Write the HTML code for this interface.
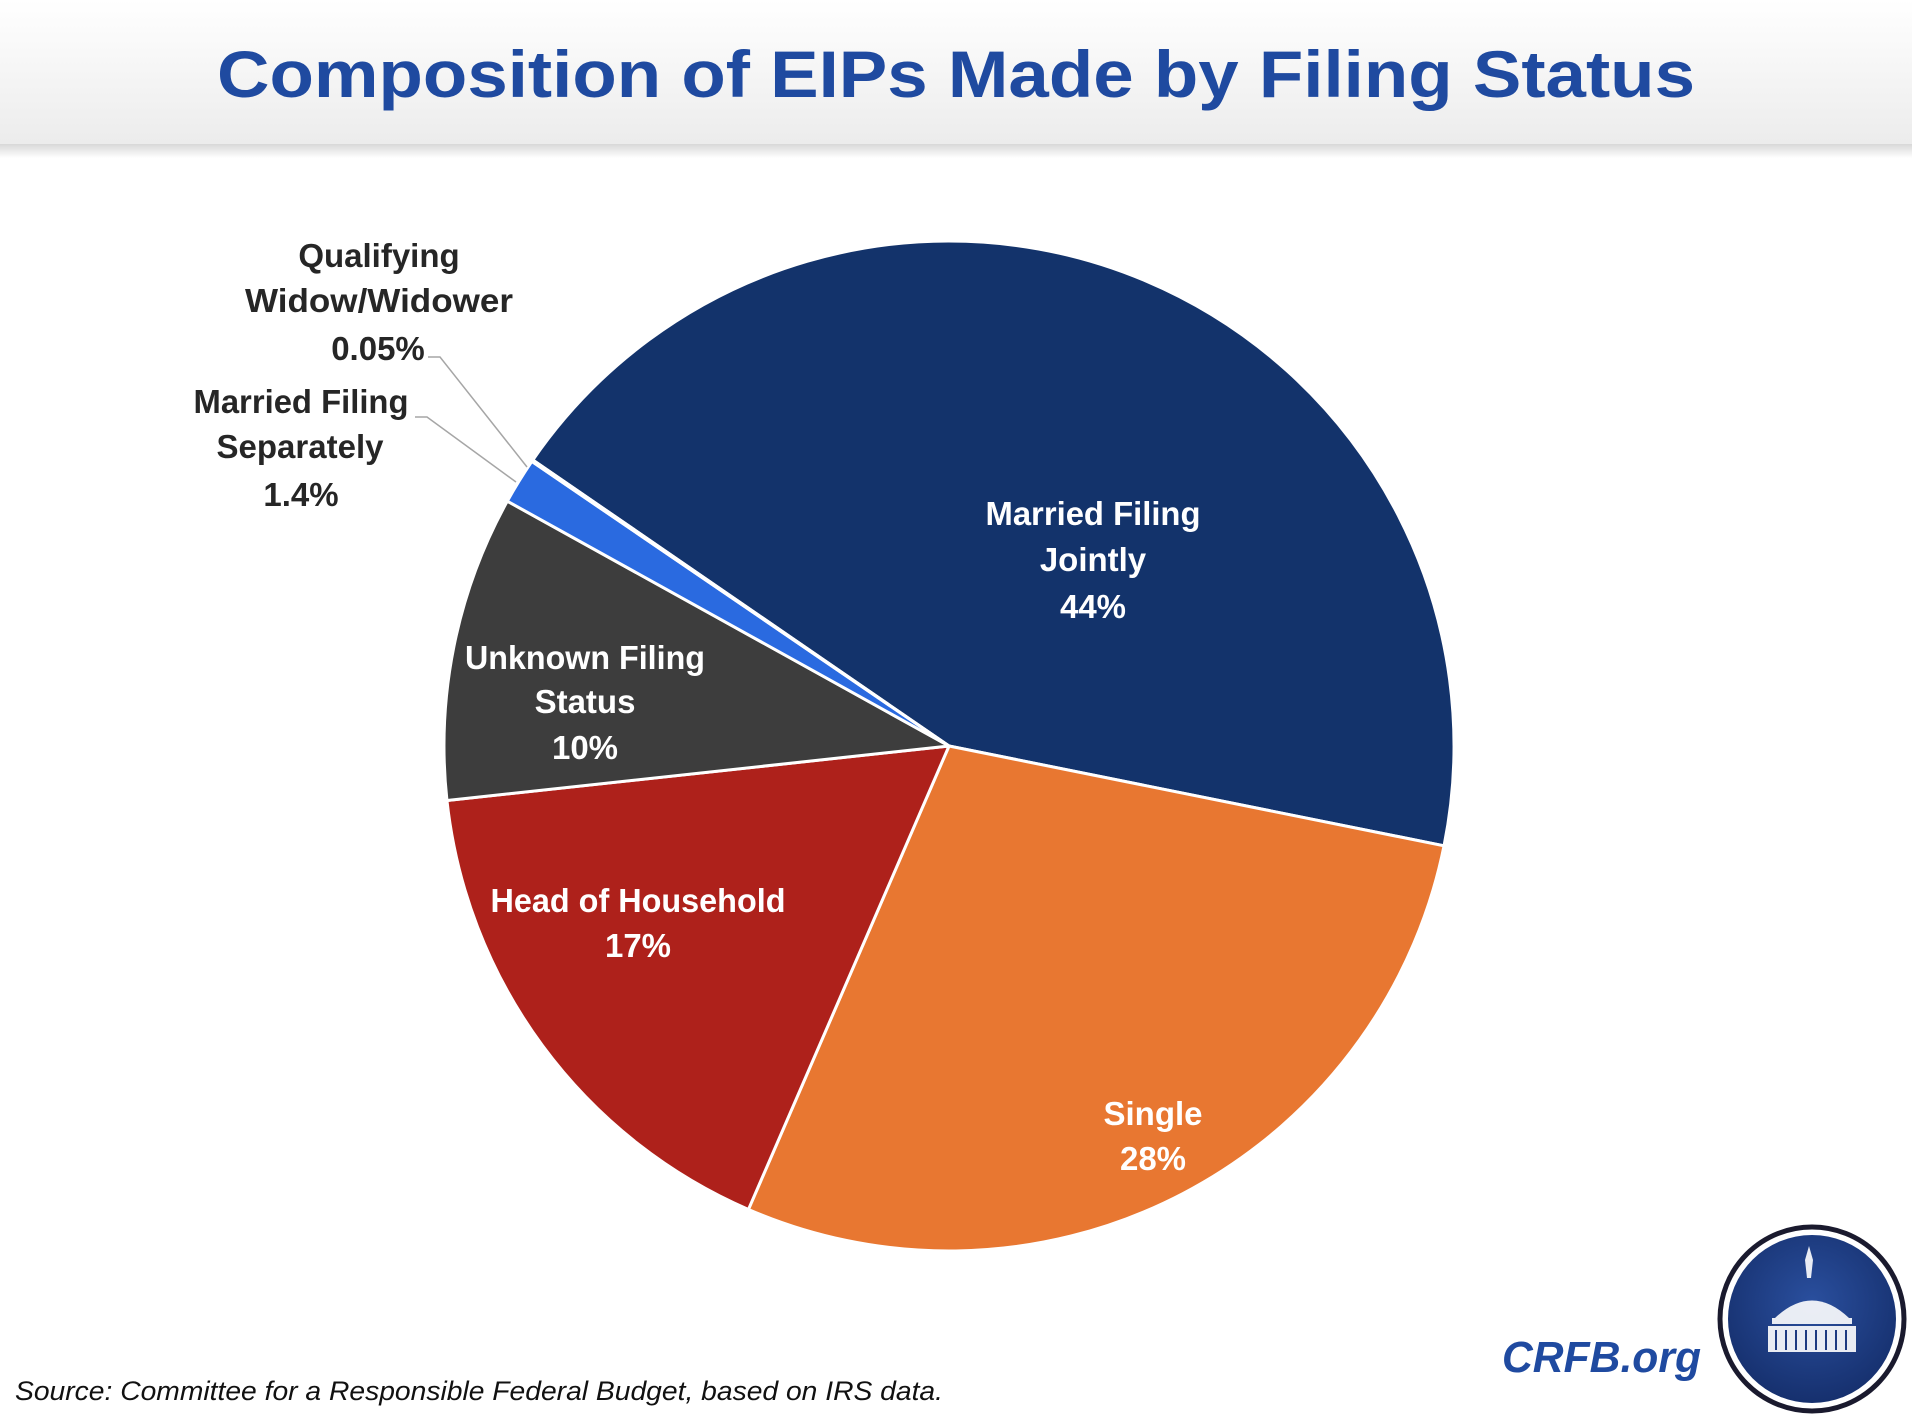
<!DOCTYPE html>
<html><head><meta charset="utf-8"><style>
html,body{margin:0;padding:0;background:#fff;}
svg{display:block;}
text{font-family:"Liberation Sans",sans-serif;font-weight:bold;}
</style></head><body>
<svg width="1912" height="1420" viewBox="0 0 1912 1420" xmlns="http://www.w3.org/2000/svg">
<defs>
<linearGradient id="hdr" x1="0" y1="0" x2="0" y2="1">
<stop offset="0" stop-color="#ffffff"/><stop offset="1" stop-color="#ececec"/>
</linearGradient>
<linearGradient id="shd" x1="0" y1="0" x2="0" y2="1">
<stop offset="0" stop-color="#d8d8d8"/><stop offset="1" stop-color="#ffffff"/>
</linearGradient>
<radialGradient id="lg" cx="0.5" cy="0.4" r="0.6">
<stop offset="0" stop-color="#2a4f9e"/><stop offset="1" stop-color="#16306e"/>
</radialGradient>
</defs>
<rect x="0" y="0" width="1912" height="144" fill="url(#hdr)"/>
<rect x="0" y="144" width="1912" height="14" fill="url(#shd)"/>
<text x="956" y="97" text-anchor="middle" font-size="66" fill="#1f4aa0" textLength="1478" lengthAdjust="spacingAndGlyphs">Composition of EIPs Made by Filing Status</text>

<g stroke="#fff" stroke-width="3" stroke-linejoin="round" id="pie"></g>

<g fill="#fff" font-size="33" text-anchor="middle">
<text x="1093" y="525" textLength="215" lengthAdjust="spacingAndGlyphs">Married Filing</text>
<text x="1093" y="571">Jointly</text>
<text x="1093" y="618">44%</text>
<text x="1153" y="1125">Single</text>
<text x="1153" y="1170">28%</text>
<text x="638" y="912" textLength="295" lengthAdjust="spacingAndGlyphs">Head of Household</text>
<text x="638" y="957">17%</text>
<text x="585" y="669" textLength="240" lengthAdjust="spacingAndGlyphs">Unknown Filing</text>
<text x="585" y="713">Status</text>
<text x="585" y="759">10%</text>
</g>
<g fill="#262626" font-size="33" text-anchor="middle">
<text x="301" y="413" textLength="215" lengthAdjust="spacingAndGlyphs">Married Filing</text>
<text x="300" y="458">Separately</text>
<text x="301" y="506">1.4%</text>
<text x="379" y="267">Qualifying</text>
<text x="379" y="312" textLength="268" lengthAdjust="spacingAndGlyphs">Widow/Widower</text>
<text x="378" y="360">0.05%</text>
</g>
<g fill="none" stroke="#a6a6a6" stroke-width="1.5">
<polyline points="428,357 440,357 527,467"/>
<polyline points="415,417 427,417 516,482"/>
</g>

<text x="15" y="1400" font-size="27" font-weight="normal" font-style="italic" fill="#111" style="font-weight:normal" textLength="928" lengthAdjust="spacingAndGlyphs">Source: Committee for a Responsible Federal Budget, based on IRS data.</text>
<text x="1502" y="1372" font-size="44" font-style="italic" fill="#1f4aa0" textLength="199" lengthAdjust="spacingAndGlyphs">CRFB.org</text>

<circle cx="1812" cy="1319" r="92" fill="#fff" stroke="#1a1a2e" stroke-width="5"/>
<circle cx="1812" cy="1319" r="84" fill="url(#lg)"/>
<g fill="#fff" opacity="0.9">
<path d="M1805 1260 l4 -14 l4 14 l-2 18 l-4 0z"/>
<path d="M1775 1318 q37 -35 74 0 z"/>
<rect x="1772" y="1318" width="80" height="6"/>
<rect x="1768" y="1326" width="88" height="26"/>
</g>
<g stroke="#1d3a80" stroke-width="2">
<line x1="1776" y1="1330" x2="1776" y2="1350"/><line x1="1786" y1="1330" x2="1786" y2="1350"/>
<line x1="1796" y1="1330" x2="1796" y2="1350"/><line x1="1806" y1="1330" x2="1806" y2="1350"/>
<line x1="1816" y1="1330" x2="1816" y2="1350"/><line x1="1826" y1="1330" x2="1826" y2="1350"/>
<line x1="1836" y1="1330" x2="1836" y2="1350"/><line x1="1846" y1="1330" x2="1846" y2="1350"/>
</g>
</svg>
<script>
(function(){
var cx=949,cy=746,r=505;
var s=[[304.5,461.4,"#13336b"],[101.4,203.4,"#e87731"],[203.4,263.8,"#ae211b"],[263.8,299,"#3d3d3d"],[299,304.3,"#2a6ae0"],[304.3,304.5,"#9fb3d6"]];
function p(a){a=a*Math.PI/180;return [cx+r*Math.sin(a),cy-r*Math.cos(a)];}
var g=document.getElementById("pie"),ns="http://www.w3.org/2000/svg";
s.forEach(function(d){var a=p(d[0]),b=p(d[1]);var large=(d[1]-d[0])>180?1:0;
var e=document.createElementNS(ns,"path");
e.setAttribute("d","M"+cx+" "+cy+" L"+a[0]+" "+a[1]+" A"+r+" "+r+" 0 "+large+" 1 "+b[0]+" "+b[1]+" Z");
e.setAttribute("fill",d[2]);g.appendChild(e);});
})();
</script>
</body></html>
